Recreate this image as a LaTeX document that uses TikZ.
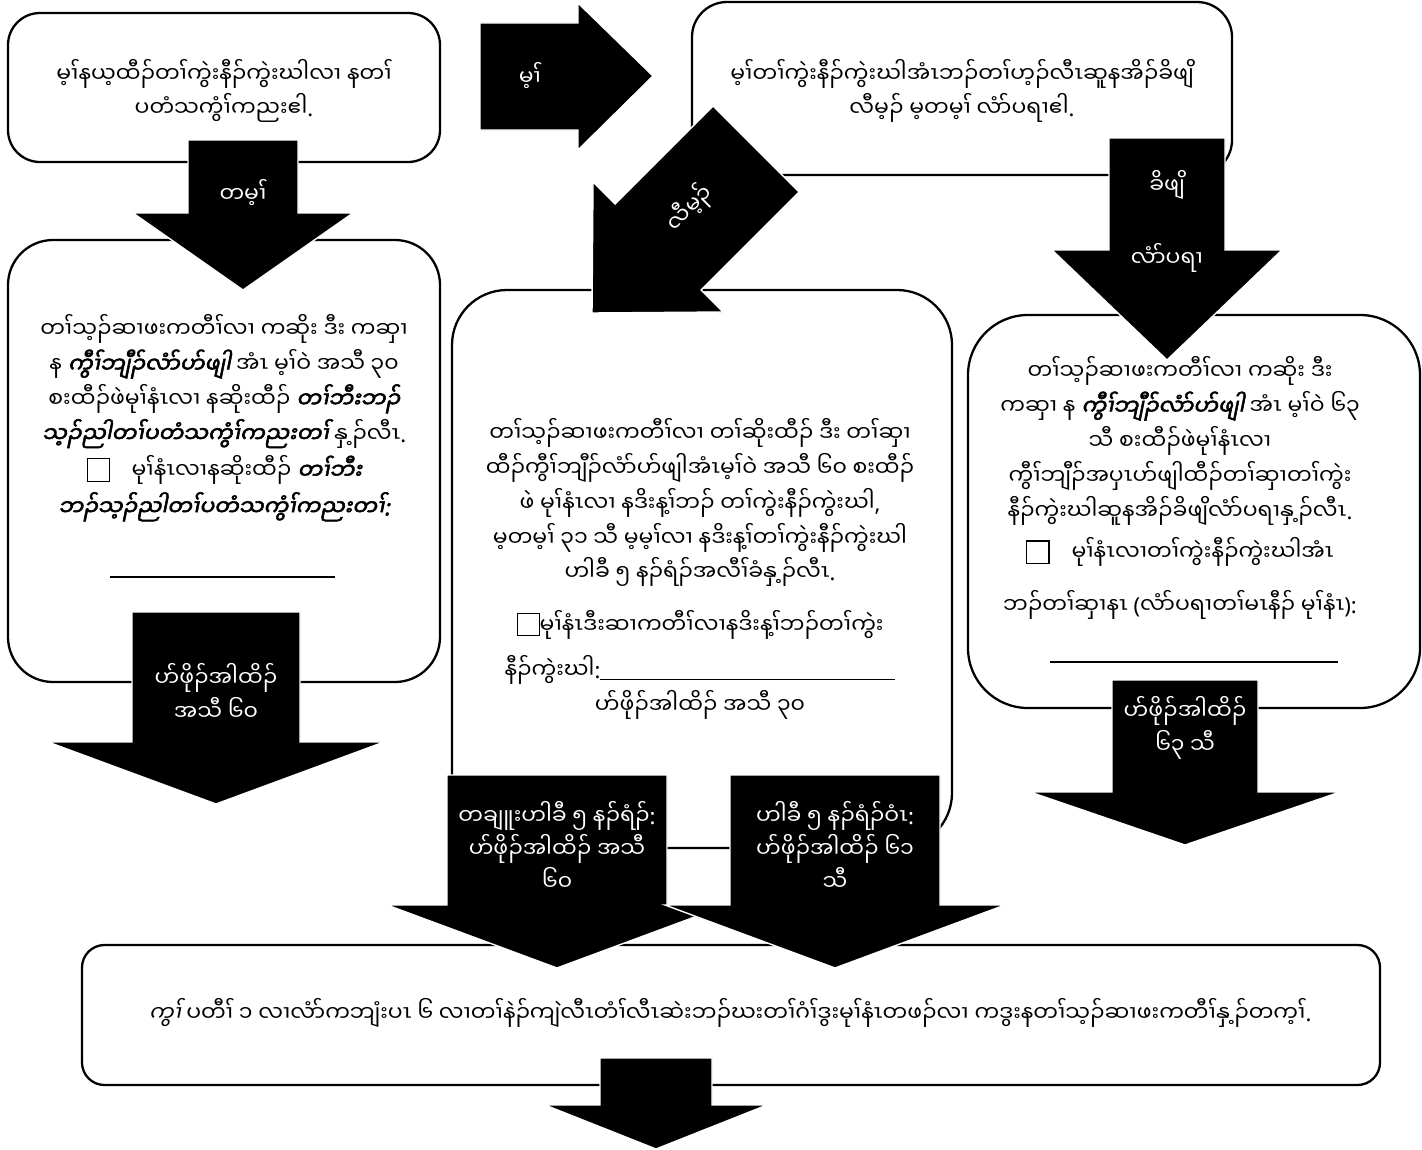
\documentclass[tikz,border=0pt]{standalone}
\usepackage{fontspec}
\setmainfont[Script=Myanmar,AutoFakeBold=2.5,AutoFakeSlant=0.2]{Noto Sans Myanmar UI}
\newfontfamily\pf[AutoFakeBold=2.5,AutoFakeSlant=0.2]{Noto Sans}
\newcommand{\chkbox}{{\setlength{\fboxsep}{0pt}\setlength{\fboxrule}{0.6pt}\raisebox{-1pt}{\fbox{\rule{0pt}{12pt}\rule{12pt}{0pt}}}}}
\newcommand{\hl}[1]{{\bfseries\itshape #1}}
\tikzset{
  box/.style = {draw=black, line width=1.3pt, fill=white},
  txt/.style = {align=center, font=\fontsize{12.5}{19.8}\selectfont},
  blk/.style = {fill=black, draw=white, line width=0.8pt},
  lbl/.style = {text=white, align=center, font=\fontsize{12.5}{19}\selectfont}
}

\begin{document}
\begin{tikzpicture}[x=0.02cm,y=-0.02cm]
  \useasboundingbox (0,0) rectangle (1422,1149);

  % boxes
  \draw[box, rounded corners=0.64cm] (8,13) rectangle (440,162);
  \draw[box, rounded corners=0.7cm] (692,2) rectangle (1232,175);
  \draw[box, rounded corners=0.9cm] (8,240) rectangle (440,682);
  \draw[box, rounded corners=1.1cm] (452,290) rectangle (952,848);
  \draw[box, rounded corners=1.2cm] (968,315) rectangle (1420,708);
  \draw[box, rounded corners=0.45cm] (82,945) rectangle (1380,1085);

  \node[txt] (ask) at (224,91) {မ့ၢ်နယ့ထီၣ်တၢ်ကွဲးနီၣ်ကွဲးဃါလၢ နတၢ်\\ပတံသကွံၢ်ကညးဧါ{\pf.}};
  \node[txt] (how) at (962,91) {မ့ၢ်တၢ်ကွဲးနီၣ်ကွဲးဃါအံၤဘၣ်တၢ်ဟ့ၣ်လီၤဆူနအိၣ်ခိဖျိ\\လီမ့ၣ် မ့တမ့ၢ် လံာ်ပရၢဧါ{\pf.}};
  \node[txt] (nonotice) at (224,418) {တၢ်သ့ၣ်ဆၢဖးကတီၢ်လၢ ကဆိုး ဒီး ကဆှၢ\\
    န \hl{ကွီၢ်ဘျီၣ်လံာ်ဟ်ဖျါ} အံၤ မ့ၢ်ဝဲ အသီ ၃၀\\
    စးထီၣ်ဖဲမုၢ်နံၤလၢ နဆိုးထီၣ် \hl{တၢ်ဘီးဘၣ်}\\
    \hl{သ့ၣ်ညါတၢ်ပတံသကွံၢ်ကညးတၢ်} နှ့ၣ်လီၤ{\pf.}\\[1pt]
    \chkbox\quad မုၢ်နံၤလၢနဆိုးထီၣ် \hl{တၢ်ဘီး}\\[1pt]
    \hl{ဘၣ်သ့ၣ်ညါတၢ်ပတံသကွံၢ်ကညးတၢ်{\pf:}}};
  \draw[line width=0.6pt] (110,577) -- (335,577);
  \node[txt] (byemail) at (700,569) {တၢ်သ့ၣ်ဆၢဖးကတီၢ်လၢ တၢ်ဆိုးထီၣ် ဒီး တၢ်ဆှၢ\\
    ထီၣ်ကွီၢ်ဘျီၣ်လံာ်ဟ်ဖျါအံၤမ့ၢ်ဝဲ အသီ ၆၀ စးထီၣ်\\
    ဖဲ မုၢ်နံၤလၢ နဒိးန့ၢ်ဘၣ် တၢ်ကွဲးနီၣ်ကွဲးဃါ{\pf,}\\
    မ့တမ့ၢ် ၃၁ သီ မ့မ့ၢ်လၢ နဒိးန့ၢ်တၢ်ကွဲးနီၣ်ကွဲးဃါ\\
    ဟါခီ ၅ နၣ်ရံၣ်အလီၢ်ခံနှ့ၣ်လီၤ{\pf.}\\[10pt]
    \chkbox မုၢ်နံၤဒီးဆၢကတီၢ်လၢနဒိးန့ၢ်ဘၣ်တၢ်ကွဲး\\[6pt]
    နီၣ်ကွဲးဃါ{\pf:}\rule[-1pt]{5.9cm}{0.6pt}\\
    ဟ်ဖိုၣ်အါထိၣ် အသီ ၃၀};
  \node[txt] (bypost) at (1180,488) {တၢ်သ့ၣ်ဆၢဖးကတီၢ်လၢ ကဆိုး ဒီး\\
    ကဆှၢ န \hl{ကွီၢ်ဘျီၣ်လံာ်ဟ်ဖျါ} အံၤ မ့ၢ်ဝဲ ၆၃\\
    သီ စးထီၣ်ဖဲမုၢ်နံၤလၢ\\
    ကွီၢ်ဘျီၣ်အပှၤဟ်ဖျါထီၣ်တၢ်ဆှၢတၢ်ကွဲး\\
    နီၣ်ကွဲးဃါဆူနအိၣ်ခိဖျိလံာ်ပရၢနှ့ၣ်လီၤ{\pf.}\\[4pt]
    \chkbox\quad မုၢ်နံၤလၢတၢ်ကွဲးနီၣ်ကွဲးဃါအံၤ\\[10pt]
    ဘၣ်တၢ်ဆှၢနၤ {\pf(}လံာ်ပရၢတၢ်မၤနီၣ် မုၢ်နံၤ{\pf):}};
  \draw[line width=0.6pt] (1050,662) -- (1338,662);
  \node[txt] (note) at (730,1013) {\textit{ကွၢ်} ပတီၢ် ၁ လၢလံာ်ကဘျံးပၤ ၆ လၢတၢ်နဲၣ်ကျဲလီၤတံၢ်လီၤဆဲးဘၣ်ဃးတၢ်ဂံၢ်ဒွးမုၢ်နံၤတဖၣ်လၢ ကဒွးနတၢ်သ့ၣ်ဆၢဖးကတီၢ်နှ့ၣ်တက့ၢ်{\pf.}};

  % block arrows
  \foreach \cx/\yt/\sw/\yb/\hw/\yp in {243/140/55/213/110/290, 1167/138/58/250/115/360,
      216/612/84/742/168/804, 557/775/110/905/170/968, 835/775/105/905/170/968,
      1185/680/73/792/155/845, 656/1058/56/1105/111/1149}
    \draw[blk] (\cx-\sw,\yt) -- (\cx+\sw,\yt) -- (\cx+\sw,\yb) -- (\cx+\hw,\yb)
      -- (\cx,\yp) -- (\cx-\hw,\yb) -- (\cx-\sw,\yb) -- cycle;
  \draw[blk] (480,23) -- (578,23) -- (578,3) -- (653,76) -- (578,150) -- (578,130) -- (480,130) -- cycle;
  \draw[blk] (713,106) -- (799,192) -- (701,290) -- (723,312) -- (592,313) -- (593,182) -- (615,204) -- cycle;

  \node[lbl] (no) at (243,193) {တမ့ၢ်};
  \node[lbl] (yes) at (530,76) {မ့ၢ်};
  \node[lbl, rotate=45] (email) at (690,208) {လီမ့ၣ်};
  \node[lbl] (via) at (1167,185) {ခိဖျိ};
  \node[lbl] (letter) at (1167,258) {လံာ်ပရၢ};
  \node[lbl] (extleft) at (216,692) {ဟ်ဖိုၣ်အါထိၣ်\\အသီ ၆၀};
  \node[lbl] (before) at (557,846) {တချူးဟါခီ ၅ နၣ်ရံၣ်{\pf:}\\ဟ်ဖိုၣ်အါထိၣ် အသီ\\၆၀};
  \node[lbl] (after) at (835,846) {ဟါခီ ၅ နၣ်ရံၣ်ဝံၤ{\pf:}\\ဟ်ဖိုၣ်အါထိၣ် ၆၁\\သီ};
  \node[lbl] (extright) at (1185,728) {ဟ်ဖိုၣ်အါထိၣ်\\၆၃ သီ};
\end{tikzpicture}
\end{document}
